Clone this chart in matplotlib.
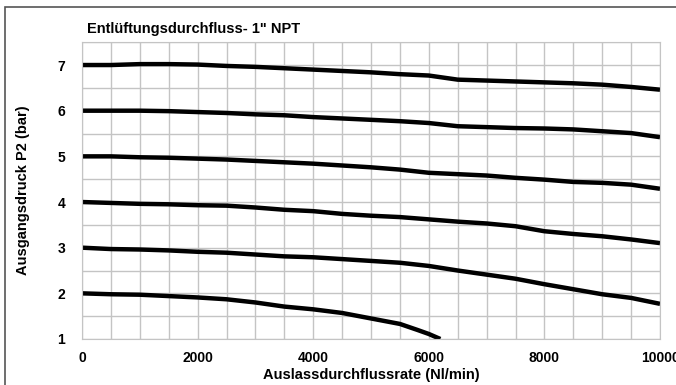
import matplotlib.pyplot as plt
from matplotlib.ticker import MultipleLocator
from matplotlib.patches import Rectangle

plt.rcParams['font.family'] = ['Liberation Sans', 'DejaVu Sans']

flow = [0, 500, 1000, 1500, 2000, 2500, 3000, 3500, 4000, 4500, 5000,
        5500, 6000, 6500, 7000, 7500, 8000, 8500, 9000, 9500, 10000]

p7 = [7.0, 7.0, 7.02, 7.02, 7.01, 6.98, 6.96, 6.93, 6.9, 6.87, 6.84,
      6.8, 6.77, 6.68, 6.66, 6.64, 6.62, 6.6, 6.57, 6.52, 6.46]
p6 = [6.0, 6.0, 6.0, 5.99, 5.97, 5.95, 5.92, 5.9, 5.86, 5.83, 5.8,
      5.77, 5.73, 5.66, 5.64, 5.62, 5.61, 5.59, 5.55, 5.51, 5.42]
p5 = [5.0, 5.0, 4.98, 4.97, 4.95, 4.93, 4.9, 4.87, 4.84, 4.8, 4.76,
      4.71, 4.64, 4.61, 4.58, 4.53, 4.49, 4.44, 4.42, 4.38, 4.29]
p4 = [4.0, 3.98, 3.96, 3.95, 3.93, 3.92, 3.88, 3.83, 3.8, 3.74, 3.7,
      3.67, 3.62, 3.57, 3.53, 3.47, 3.36, 3.3, 3.25, 3.18, 3.1]
p3 = [3.0, 2.97, 2.96, 2.94, 2.91, 2.89, 2.85, 2.81, 2.79, 2.75, 2.71,
      2.67, 2.6, 2.5, 2.41, 2.32, 2.2, 2.09, 1.98, 1.9, 1.77]

flow2 = [0, 500, 1000, 1500, 2000, 2500, 3000, 3500, 4000, 4500, 5000,
         5500, 5800, 6000, 6200]
p2 = [2.0, 1.98, 1.97, 1.94, 1.91, 1.87, 1.8, 1.71, 1.65, 1.57, 1.45,
      1.33, 1.2, 1.11, 1.0]

fig = plt.figure(figsize=(6.76, 3.85), dpi=100)
fig.patches.append(Rectangle((5 / 676, -0.1), 1.2, 1 - 7 / 385 + 0.1,
                             transform=fig.transFigure, fill=False,
                             edgecolor='#555555', linewidth=1.2))
ax = fig.add_axes([82 / 676, 1 - 339 / 385, 578 / 676, (339 - 42.2) / 385])

for y in [p7, p6, p5, p4, p3]:
    ax.plot(flow, y, color='black', linewidth=3.2, solid_capstyle='butt')
ax.plot(flow2, p2, color='black', linewidth=3.2, solid_capstyle='butt')

ax.set_xlim(0, 10000)
ax.set_ylim(1, 7.5)
ax.xaxis.set_major_locator(MultipleLocator(2000))
ax.xaxis.set_minor_locator(MultipleLocator(500))
ax.yaxis.set_major_locator(MultipleLocator(1))
ax.yaxis.set_minor_locator(MultipleLocator(0.5))
ax.grid(True, which='both', color='#c4c4c4', linewidth=1)
ax.set_axisbelow(True)
ax.tick_params(which='both', length=0)
ax.tick_params(axis='x', pad=9, labelsize=10)
ax.tick_params(axis='y', pad=12, labelsize=10)
for lab in ax.get_xticklabels() + ax.get_yticklabels():
    lab.set_fontweight('bold')
ax.set_yticks([1, 2, 3, 4, 5, 6, 7])
for s in ax.spines.values():
    s.set_color('#c4c4c4')

ax.set_xlabel('Auslassdurchflussrate (Nl/min)', fontsize=10.5, fontweight='bold', labelpad=2)
ax.set_ylabel('Ausgangsdruck P2 (bar)', fontsize=10.5, fontweight='bold', labelpad=20)
fig.text(87 / 676, 1 - 29 / 385, 'Entlüftungsdurchfluss- 1" NPT', fontsize=10.5,
         fontweight='bold', va='center', ha='left')

fig.savefig('out.png', dpi=100)
